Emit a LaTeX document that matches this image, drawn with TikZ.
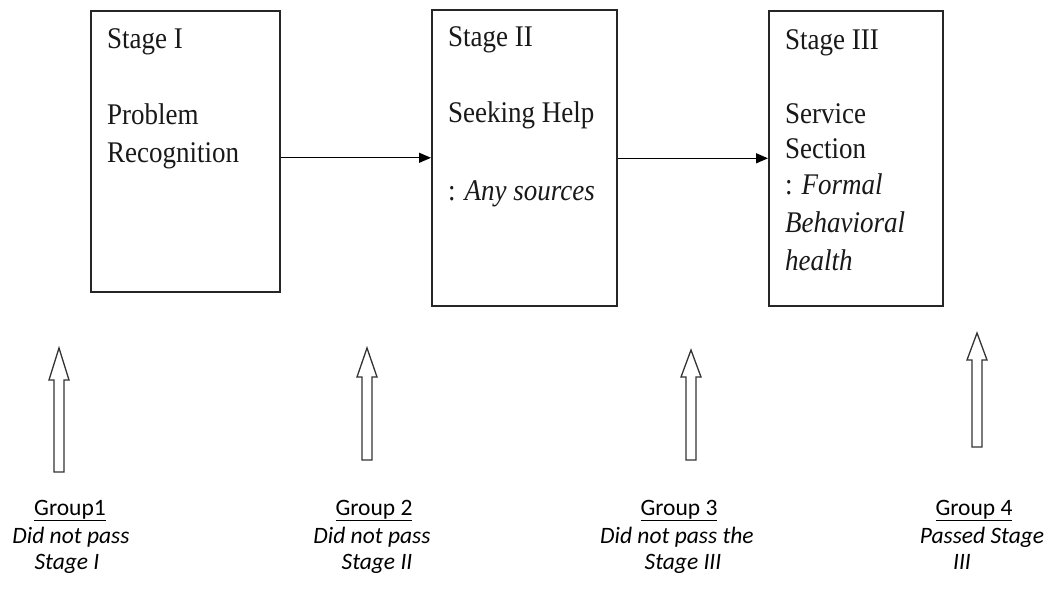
\documentclass[tikz,border=0pt]{standalone}
\usepackage{fontspec}
\usetikzlibrary{arrows.meta}
\newfontfamily\boxfont[FakeStretch=0.9]{Liberation Serif}
\newfontfamily\grpfont{Carlito}
\newcommand\grpul[1]{\leavevmode\vtop{\hbox{#1}\kern0.8pt\hrule height 1.3pt}}
\tikzset{
  stagebox/.style={draw=black!85, line width=1.6pt, inner sep=0pt, anchor=north west},
  boxtxt/.style={font=\boxfont\fontsize{30}{36}\selectfont, anchor=base west, inner sep=0pt, text=black!90},
  grptxt/.style={font=\grpfont\fontsize{23.5}{28}\selectfont, anchor=base, inner sep=0pt, text=black},
  conn/.style={line width=1.3pt, -{Triangle[length=12pt,width=10pt]}},
  hollow/.style={draw=black!80, line width=1.3pt, fill=white, line join=miter},
}
\newcommand\hollowarrow[4]{%
  \draw[hollow] (#1-5,#4) -- (#1-5,#3) -- (#1-10,#3) -- (#1,#2) -- (#1+10,#3) -- (#1+5,#3) -- (#1+5,#4) -- cycle;}
\begin{document}
\begin{tikzpicture}[x=1pt,y=-1pt]
\useasboundingbox[fill=white] (0,0) rectangle (1044,607);
% stage boxes
\node[stagebox, minimum width=189pt, minimum height=281pt] (b1) at (90,10) {};
\node[stagebox, minimum width=185pt, minimum height=296pt] (b2) at (431,9) {};
\node[stagebox, minimum width=174pt, minimum height=295pt] (b3) at (768,10) {};
% box texts
\node[boxtxt] (t1a) at (107,49) {Stage I};
\node[boxtxt] (t1b) at (107,125) {Problem};
\node[boxtxt] (t1c) at (107,163) {Recognition};
\node[boxtxt] (t2a) at (448,47) {Stage II};
\node[boxtxt] (t2b) at (448,123) {Seeking Help};
\node[boxtxt] (t2c) at (448,200) {: \textit{Any sources}};
\node[boxtxt] (t3a) at (785,50) {Stage III};
\node[boxtxt] (t3b) at (785,124) {Service};
\node[boxtxt] (t3c) at (785,158) {Section};
\node[boxtxt] (t3d) at (785,194) {: \textit{Formal}};
\node[boxtxt] (t3e) at (785,232) {\textit{Behavioral}};
\node[boxtxt] (t3f) at (785,270) {\textit{health}};
% connectors
\draw[conn] (b1.east |- b2.west) -- (b2.west);
\draw[conn] (b2.east |- b3.west) -- (b3.west);
% hollow up arrows
\hollowarrow{59}{348}{380}{472}
\hollowarrow{367}{348}{377}{460}
\hollowarrow{691}{350}{377}{460}
\hollowarrow{977}{333}{360}{447}
% group labels
\node[grptxt] (g1a) at (70,515) {\grpul{Group1}};
\node[grptxt] (g1b) at (71,543) {\itshape Did not pass};
\node[grptxt] (g1c) at (67,569) {\itshape Stage I};
\node[grptxt] (g2a) at (374,515) {\grpul{Group 2}};
\node[grptxt] (g2b) at (372,543) {\itshape Did not pass};
\node[grptxt] (g2c) at (377,569) {\itshape Stage II};
\node[grptxt] (g3a) at (679,515) {\grpul{Group 3}};
\node[grptxt] (g3b) at (677,543) {\itshape Did not pass the};
\node[grptxt] (g3c) at (683,569) {\itshape Stage III};
\node[grptxt] (g4a) at (974,515) {\grpul{Group 4}};
\node[grptxt] (g4b) at (982,543) {\itshape Passed Stage};
\node[grptxt] (g4c) at (962,569) {\itshape III};
\end{tikzpicture}
\end{document}
